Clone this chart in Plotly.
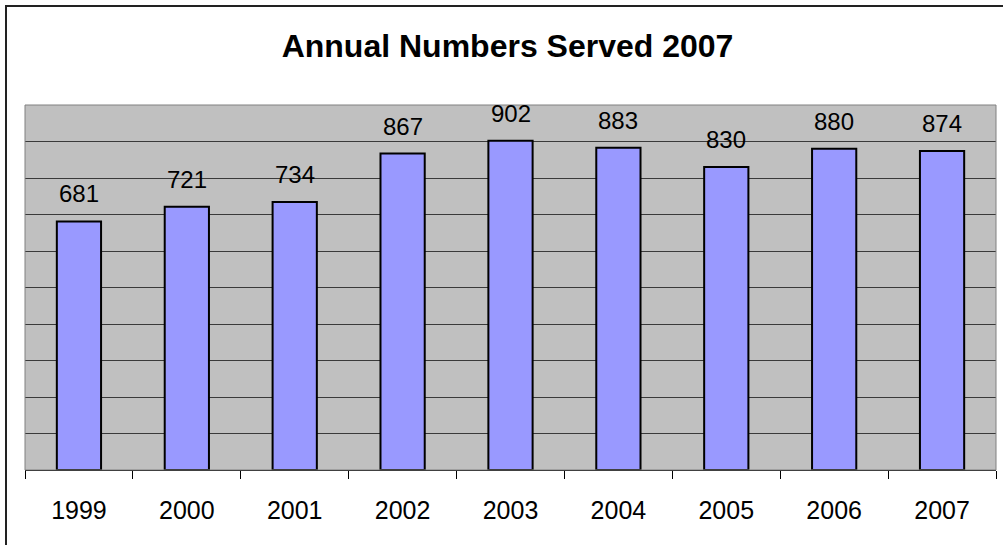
import plotly.graph_objects as go

years = ["1999", "2000", "2001", "2002", "2003", "2004", "2005", "2006", "2007"]
served = [681, 721, 734, 867, 902, 883, 830, 880, 874]
title_text = "Annual Numbers Served 2007"

W, H = 1003, 545
L, R, T, B = 25, 7, 105, 75
pw, ph = W - L - R, H - T - B

fig = go.Figure(go.Bar(
    x=years, y=served,
    marker=dict(color="#9999FF", line=dict(color="black", width=2)),
))

for i, v in enumerate(served):
    fig.add_annotation(x=i, y=v, text=str(v), showarrow=False,
                       yanchor="bottom", yshift=12,
                       font=dict(family="Liberation Sans, Arial", size=24, color="black"))

def px_x(p):
    return (p - L) / pw

def px_y(p):
    return 1 - (p - T) / ph

# plot area border
fig.add_shape(type="rect", xref="paper", yref="paper", x0=0, x1=1, y0=0, y1=1,
              line=dict(color="#808080", width=1), layer="above")
# outer chart border
fig.add_shape(type="rect", xref="paper", yref="paper",
              x0=px_x(6), x1=px_x(1100), y0=px_y(700), y1=px_y(6),
              line=dict(color="#222222", width=2), layer="above")

fig.update_layout(
    width=W, height=H,
    margin=dict(l=L, r=R, t=T, b=B, autoexpand=False),
    paper_bgcolor="white", plot_bgcolor="#C0C0C0",
    bargap=0.59, showlegend=False,
    font=dict(family="Liberation Sans, Arial", color="black"),
    title=dict(text="<b>" + title_text + "</b>", x=0.506, xanchor="center",
               y=1 - 46 / H, yanchor="middle", yref="container",
               font=dict(size=32, family="Liberation Sans, Arial", color="black")),
)
fig.update_xaxes(type="category", range=[-0.5, 8.5], showline=True, linecolor="black", linewidth=1,
                 ticks="outside", tickson="boundaries", ticklen=8, tickcolor="black",
                 tickfont=dict(size=25), tickangle=0, ticklabelstandoff=18,
                 showgrid=False, automargin=False)
fig.update_yaxes(range=[0, 1000], dtick=100, showticklabels=False,
                 showgrid=True, gridcolor="#3a3a3a", gridwidth=1, zeroline=False)

fig.write_html("out.html", config={"displayModeBar": False},
               post_script="document.body.style.margin='0';")
